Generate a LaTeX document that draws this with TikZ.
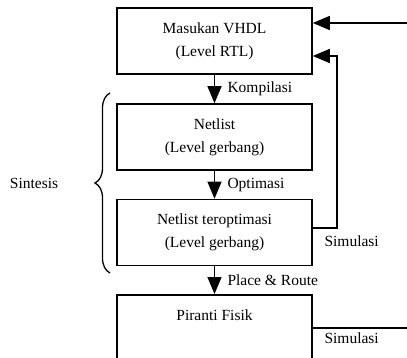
\documentclass[tikz,border=0pt]{standalone}
\usepackage{fontspec}
\setmainfont{Liberation Serif}
\usetikzlibrary{arrows.meta,decorations.pathreplacing}
\tikzset{blok/.style={draw,line width=1.6pt,minimum width=195pt,minimum height=66pt,align=center,inner sep=0pt},
  panah/.style={line width=1.4pt,-{Triangle[length=17pt,width=14pt]}}}

\begin{document}
\begin{tikzpicture}[x=1pt,y=-1pt,font=\fontsize{15.5}{23}\selectfont]
\useasboundingbox (0,0) rectangle (407,358);
\node[blok] (vhdl) at (214.5,41) {Masukan VHDL\\(Level RTL)};
\node[blok] (netlist) at (214.5,137) {Netlist\\(Level gerbang)};
\node[blok] (opt) at (214.5,232.5) {Netlist teroptimasi\\(Level gerbang)};
\node[blok,minimum height=80pt,anchor=north] (fisik) at (214.5,294) {};
\node (fisiklbl) at (214.5,315) {Piranti Fisik};
\node (sintesis) at (34,183) {Sintesis};

\coordinate (masuk) at (407,23);
\coordinate (balik) at (337,56);
\coordinate (keluar) at (407,328);

\path[panah] (vhdl) edge node[anchor=west,xshift=9pt] {Kompilasi} (netlist);
\path[panah] (netlist) edge node[anchor=west,xshift=9pt] {Optimasi} (opt);
\path[panah] (opt) edge node[anchor=west,xshift=9pt] {Place \& Route} (fisik);

\draw[panah] (masuk) -- (vhdl.east |- masuk);
\draw[panah] (opt.east |- 0,228) -| (balik) -- (vhdl.east |- balik);
\draw[line width=1.4pt] (fisik.east |- keluar) -- (keluar);
\node[anchor=west] (sim1) at (321,241) {Simulasi};
\node[anchor=west] (sim2) at (321,338) {Simulasi};

\draw[decorate,decoration={brace,amplitude=15pt},line width=1.3pt] (110,273) -- (110,93);
\end{tikzpicture}
\end{document}
